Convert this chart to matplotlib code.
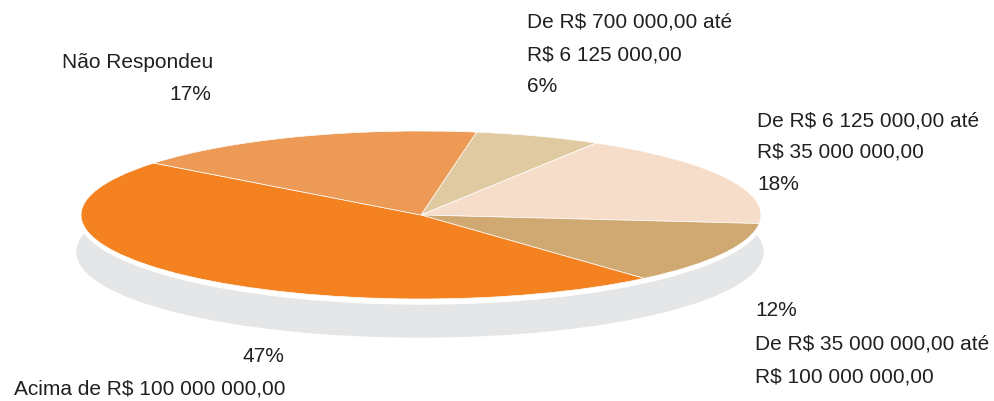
import matplotlib
matplotlib.use("Agg")
import matplotlib.pyplot as plt
from matplotlib.patches import Ellipse

# slices, clockwise from the top
labels = ["De R$ 700 000,00 até\nR$ 6 125 000,00",
          "De R$ 6 125 000,00 até\nR$ 35 000 000,00",
          "De R$ 35 000 000,00 até\nR$ 100 000 000,00",
          "Acima de R$ 100 000 000,00",
          "Não Respondeu"]
values = [6, 18, 12, 47, 17]
colors = ["#e0caa2", "#f6ddca", "#d0a871", "#f58220", "#ed9a56"]

plt.rcParams['font.family'] = ['Liberation Sans', 'DejaVu Sans']
txt = "#231f20"
fs = 15

W, H = 995, 401
fig = plt.figure(figsize=(W / 100, H / 100), dpi=100)
ax = fig.add_axes([0, 0, 1, 1])

# pie centre and semi axes in pixels
cx, cy, a, b = 421, 215, 340, 84

# grey base + white rim
ax.add_patch(Ellipse((-1 / a, -37 / b), 2 * 343 / a, 2 * 85 / b, color="#e5e6e7", zorder=0))
ax.add_patch(Ellipse((0, -1 / b), 2 * 343 / a, 2 * 88 / b, color="white", zorder=1))

wedges, _ = ax.pie(values, colors=colors, startangle=80.6, counterclock=False,
                   wedgeprops=dict(edgecolor="white", linewidth=0.5))
for w in wedges:
    w.set_zorder(2)

ax.set_aspect("auto")
ax.set_xlim(-cx / a, (W - cx) / a)
ax.set_ylim((cy - H) / b, cy / b)
ax.axis("off")


def put(x, y, s, ha="left"):
    fig.text(x / W, 1 - y / H, s, ha=ha, va="center", fontsize=fs, color=txt)


put(213, 63, "Não Respondeu", "right")
put(211, 95, "17%", "right")

put(527, 22, "De R$ 700 000,00 até")
put(527, 55, "R$ 6 125 000,00")
put(527, 87, "6%")

put(757, 121, "De R$ 6 125 000,00 até")
put(757, 152, "R$ 35 000 000,00")
put(757, 184, "18%")

put(755, 310, "12%")
put(755, 344, "De R$ 35 000 000,00 até")
put(755, 377, "R$ 100 000 000,00")

put(284, 357, "47%", "right")
put(286, 389, "Acima de R$ 100 000 000,00", "right")

fig.savefig("out.png", dpi=100)
